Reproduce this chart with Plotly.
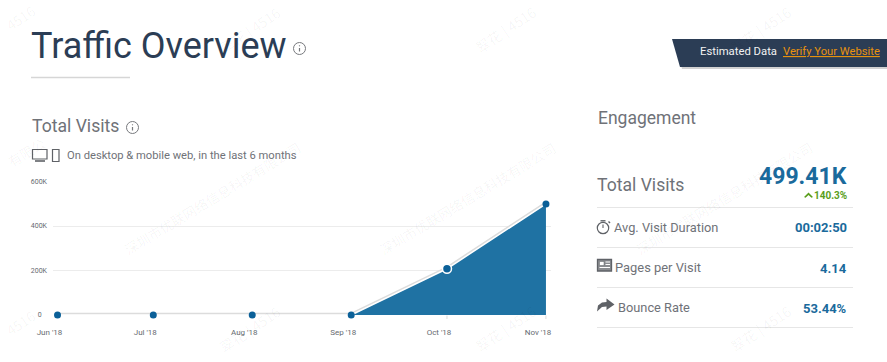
import plotly.graph_objects as go

W, H = 887, 362
months = ["2018-06-01", "2018-07-01", "2018-08-01", "2018-09-01", "2018-10-01", "2018-11-01"]
month_labels = ["Jun '18", "Jul '18", "Aug '18", "Sep '18", "Oct '18", "Nov '18"]
visits = [0, 0, 0, 0, 207800, 499410]
y_ticks = [0, 200000, 400000, 600000]
y_labels = ["0\u00a0\u00a0\u00a0", "200K", "400K", "600K"]

INK = "#2b3d55"
GREY = "#6f7278"
BLUE = "#1a6a9c"
FILL = "#1f72a3"
FONT = "Roboto"
CJK = "Noto Sans CJK SC"

def px(x): return x / W
def py(y): return 1 - y / H

fig = go.Figure()
fig.add_trace(go.Scatter(x=months, y=visits, mode="lines", line=dict(color="#dcdcdc", width=4.5),
                         hoverinfo="skip", cliponaxis=False))
fig.add_trace(go.Scatter(x=months, y=visits, mode="lines", line=dict(width=0), fill="tozeroy",
                         fillcolor=FILL, hoverinfo="skip"))
fig.add_trace(go.Scatter(x=months, y=visits, mode="lines", line=dict(color="#ffffff", width=1.5),
                         hoverinfo="skip", cliponaxis=False))
fig.add_trace(go.Scatter(x=months, y=visits, mode="markers", cliponaxis=False, hoverinfo="skip",
                         marker=dict(color="#0b6098", size=[7, 7, 7, 7, 9, 7], opacity=1,
                                     line=dict(color="#ffffff", width=[0, 0, 0, 0, 1.5, 0]))))

shapes = []
ann = []

def text(x, y, s, size, color=GREY, anchor="left", weight=None, angle=0, family=FONT):
    if weight:
        s = f"<b>{s}</b>"
    ann.append(dict(xref="paper", yref="paper", x=px(x), y=py(y), text=s, showarrow=False,
                    xanchor=anchor, yanchor="middle", align=anchor, textangle=angle,
                    borderpad=0, borderwidth=0, font=dict(family=family, size=size, color=color)))

def line(x0, y0, x1, y1, color="#e6e6e6", width=1):
    shapes.append(dict(type="line", xref="paper", yref="paper", x0=px(x0), y0=py(y0), x1=px(x1), y1=py(y1),
                       line=dict(color=color, width=width)))

def path(points, fill="rgba(0,0,0,0)", color="rgba(0,0,0,0)", width=0):
    d = "M " + " L ".join(f"{px(a):.5f},{py(b):.5f}" for a, b in points) + " Z"
    shapes.append(dict(type="path", xref="paper", yref="paper", path=d, fillcolor=fill,
                       line=dict(color=color, width=width)))

def circle(cx, cy, r, color=GREY, width=1, fill="rgba(0,0,0,0)"):
    shapes.append(dict(type="circle", xref="paper", yref="paper", x0=px(cx - r), x1=px(cx + r),
                       y0=py(cy + r), y1=py(cy - r), fillcolor=fill, line=dict(color=color, width=width)))

def rect(x0, y0, x1, y1, fill="rgba(0,0,0,0)", color=GREY, width=1):
    shapes.append(dict(type="rect", xref="paper", yref="paper", x0=px(x0), x1=px(x1), y0=py(y1), y1=py(y0),
                       fillcolor=fill, line=dict(color=color, width=width)))

def info(cx, cy, r=6):
    circle(cx, cy, r, color="#77797d", width=1)
    line(cx, cy - 0.5, cx, cy + 3, color="#77797d", width=1.2)
    line(cx, cy - 3.2, cx, cy - 2.2, color="#77797d", width=1.2)

# watermarks
WM = "rgba(0,0,0,0.042)"
COMPANY = "深圳市优联网络信息科技有限公司"
TAG = "翠花 | 4516"
for x in (212, 468, 724):
    text(x, 198, COMPANY, 13.5, WM, "center", angle=-31, family=CJK)
text(26, 152, "有限公", 13.5, WM, "center", angle=-31, family=CJK)
for x in (250, 505, 760):
    text(x, 30, TAG, 14, WM, "center", angle=-34, family=CJK)
    text(x, 329, TAG, 14, WM, "center", angle=-34, family=CJK)
text(20, 18, "4516", 14, WM, "center", angle=-34, family=CJK)
text(20, 323, "4516", 14, WM, "center", angle=-34, family=CJK)

# headings
text(31, 46, "Traffic Overview", 36, INK)
info(299.5, 48.5)
line(31, 77.5, 130, 77.5, "#d6d6d6", 1.5)
text(32, 126, "Total Visits", 17.6, GREY)
info(132.5, 127.5)

# device icons
rect(32.5, 149.5, 47, 159, color="#5f6267", width=1.2)
line(35, 161, 45, 161, "#5f6267", 1.6)
rect(52.5, 149.5, 59, 161.5, color="#5f6267", width=1.2)
text(67, 155, "On desktop &amp; mobile web, in the last 6 months", 11.2, GREY)

# banner
path([(674, 41), (887, 41), (887, 69), (682, 69)], fill="rgba(0,0,0,0.18)")
path([(672, 39), (887, 39), (887, 67), (680, 67)], fill=INK)
text(700, 52, "Estimated Data", 11.3, "#f2f2f2")
text(783, 52, "<u>Verify Your Website</u>", 11.2, "#e8920e")

# engagement panel
text(598, 118, "Engagement", 17.5, GREY)
text(597, 185, "Total Visits", 17.6, GREY)
text(847, 176, "499.41K", 23, BLUE, "right", True)
path([(804, 197), (808.5, 192.5), (813, 197), (811.5, 197.7), (808.5, 195), (805.5, 197.7)], fill="#5a9e1c")
text(846.5, 195, "140.3%", 10, "#5a9e1c", "right", True)
for y in (207.5, 247.5, 287.5, 327.5):
    line(597, y, 853, y)

circle(603, 228, 5.7, "#5f6267", 1.2)
line(603, 228, 603, 224.5, "#5f6267", 1.1)
line(600.5, 220.8, 605.5, 220.8, "#5f6267", 1.4)
line(608.5, 221.5, 610, 223, "#5f6267", 1.4)
text(614, 227, "Avg. Visit Duration", 12.8, GREY)
text(847, 228, "00:02:50", 13, BLUE, "right", True)

rect(597.5, 259.5, 611.5, 271, fill="#8a8c90", color="#5f6267", width=1.3)
rect(599.5, 261.5, 604, 265.5, fill="#ffffff", color="#5f6267", width=0.5)
line(605.5, 262, 610, 262, "#ffffff", 1)
line(605.5, 264.5, 610, 264.5, "#ffffff", 1)
line(599.5, 267.5, 610, 267.5, "#ffffff", 1)
text(615, 267, "Pages per Visit", 12.9, GREY)
text(847, 268, "4.14", 13, BLUE, "right", True)

path([(597, 311.5), (598, 305.5), (602, 302.5), (606.5, 302), (606.5, 298.5), (614.5, 304.5), (606.5, 310),
      (606.5, 306.5), (602, 307)], fill="#5f6267")
text(618, 307, "Bounce Rate", 12.8, GREY)
text(847, 308, "53.44%", 13, BLUE, "right", True)

# short axis ticks under the filled months
for m in months[4:]:
    shapes.append(dict(type="line", xref="x", yref="paper", x0=m, x1=m, y0=py(315.5), y1=py(319),
                       line=dict(color="#dcdcdc", width=1)))

fig.update_layout(
    width=W, height=H, autosize=False, margin=dict(l=0, r=0, t=0, b=0),
    paper_bgcolor="#ffffff", plot_bgcolor="#ffffff", showlegend=False,
    shapes=shapes, annotations=ann,
    font=dict(family=FONT, color=GREY),
    xaxis=dict(domain=[px(53), px(551)], type="date", range=["2018-05-30 14:00", "2018-11-02 14:00"],
               tickvals=months, ticktext=month_labels, ticks="", showgrid=False, zeroline=False,
               showline=False, automargin=False, tickfont=dict(size=8, color="#666a70", family=FONT),
               ticklabelstandoff=11, ticklabelshift=-8),
    yaxis=dict(domain=[py(315), py(181.5)], range=[0, 600000], tickvals=y_ticks, ticktext=y_labels,
               showgrid=True, gridcolor="#ececec", gridwidth=1, zeroline=False, showline=False,
               automargin=False, ticks="", tickfont=dict(size=7, color="#666a70", family=FONT),
               ticklabelstandoff=5),
)
fig.write_html("out.html", config=dict(displayModeBar=False),
               post_script="document.body.style.margin='0';")
